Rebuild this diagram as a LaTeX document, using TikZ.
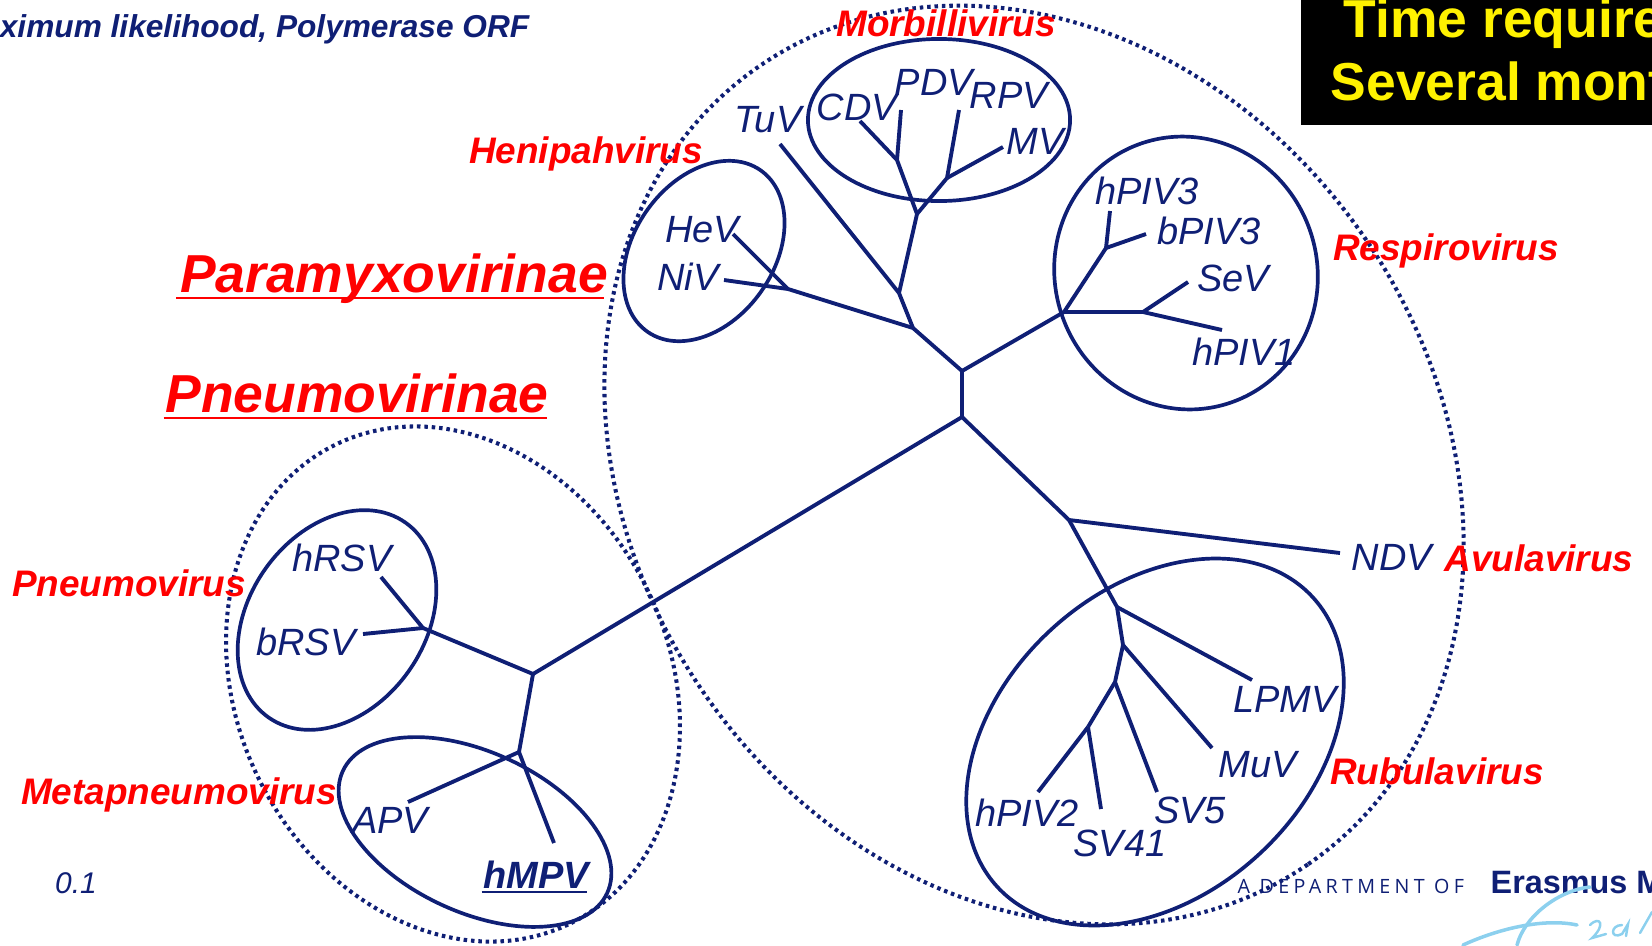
\documentclass[tikz,border=0pt]{standalone}
\usepackage{fontspec}
\setmainfont{Liberation Sans}
\newfontfamily\deptfont[LetterSpace=22]{Open Sans}
\usetikzlibrary{shapes.geometric, positioning}
\definecolor{navy}{HTML}{0F1F75}
\definecolor{logoblue}{HTML}{8CD0EE}
\newcommand{\ruletext}[3]{\setbox0\hbox{#3}\hbox{\rlap{\copy0}\kern-#2\rule[#1]{\wd0}{0.55pt}\kern#2}}
\begin{document}
\begin{tikzpicture}[x=0.01cm, y=-0.01cm, every node/.style={inner sep=0pt}]
\tikzstyle{virus} = [text=navy, font=\fontsize{10.8pt}{12pt}\selectfont\itshape]
\tikzstyle{genus} = [text=red, font=\fontsize{10.5pt}{12pt}\selectfont\bfseries\itshape]
\tikzstyle{subfamily} = [text=red, anchor=base, font=\fontsize{15.2pt}{18pt}\selectfont\bfseries\itshape]
\tikzstyle{banner} = [text=yellow, anchor=base west, font=\fontsize{15.2pt}{18pt}\selectfont\bfseries]
\tikzstyle{cluster} = [ellipse, draw=navy, line width=1.05pt]
\tikzstyle{group} = [ellipse, draw=navy, line width=1.15pt, dash pattern=on 1pt off 1.1pt]
\tikzstyle{branch} = [draw=navy, line width=1.1pt]

\useasboundingbox (0,0) rectangle (1652,945);
\clip (0,0) rectangle (1652,945);

\node[rectangle, fill=black, minimum width=3.6cm, minimum height=1.3cm, anchor=north west, inner sep=0pt] (box) at (1300,-6) {};
\node[banner] (time) at (1343,37) {Time require};
\node[banner] (months) at (1330,100) {Several mont};
\node[text=navy, anchor=base east, font=\fontsize{9pt}{11pt}\selectfont\bfseries\itshape] (title) at (530,37) {ximum likelihood, Polymerase ORF};
\node[text=navy, font=\fontsize{8.5pt}{10pt}\selectfont\itshape] (scale) at (76,883) {0.1};

\node[text=navy, anchor=base west, font=\fontsize{5.6pt}{7pt}\selectfont\deptfont] (dept) at (1237,893) {A DEPARTMENT OF};
\node[text=navy, anchor=base west, font=\fontsize{9.2pt}{11pt}\selectfont\bfseries] (erasmus) at (1490,893) {Erasmus M};
\draw[logoblue, line width=1pt, line cap=round] (1463,945) .. controls (1500,928) and (1545,918) .. (1577,925);
\draw[logoblue, line width=1pt, line cap=round] (1590,887) .. controls (1560,890) and (1525,915) .. (1517,945);
\draw[logoblue, line width=0.7pt, line cap=round] (1590,925) .. controls (1600,915) and (1606,925) .. (1592,938) -- (1606,934);
\draw[logoblue, line width=0.7pt, line cap=round] (1622,925) .. controls (1610,925) and (1610,940) .. (1622,934) -- (1628,924) -- (1626,936);
\draw[logoblue, line width=0.7pt, line cap=round] (1640,933) -- (1652,912);

\node[group, minimum width=9.68cm, minimum height=8.02cm, rotate=-55.5] (paramyxo) at (1034,465) {};
\node[group, minimum width=5.33cm, minimum height=4.32cm, rotate=-63.7] (pneumo) at (453,684) {};

\node[cluster, minimum width=2.62cm, minimum height=1.62cm] (morbilli) at (939,120) {};
\node[cluster, minimum width=1.97cm, minimum height=1.4cm, rotate=55] (henipa) at (704,251) {};
\node[cluster, minimum width=2.74cm, minimum height=2.62cm, rotate=110] (respiro) at (1186,273) {};
\node[cluster, minimum width=4.28cm, minimum height=3.06cm, rotate=42.5] (rubula) at (1155,742) {};
\node[cluster, minimum width=2.38cm, minimum height=1.76cm, rotate=55] (pneumovir) at (337,620) {};
\node[cluster, minimum width=2.91cm, minimum height=1.6cm, rotate=-24.8] (metapneumo) at (475,832) {};

\coordinate (c1) at (962,371);
\coordinate (c2) at (962,417);
\coordinate (para) at (913,328);
\coordinate (henij) at (788,289);
\coordinate (heve) at (733,234);
\coordinate (nive) at (724,280);
\coordinate (tuj) at (899,293);
\coordinate (tue) at (780,144);
\coordinate (morbj) at (917,214);
\coordinate (cdvj) at (897,160);
\coordinate (cdve) at (860,121);
\coordinate (pdve) at (901,110);
\coordinate (rpvj) at (947,178);
\coordinate (rpve) at (959,110);
\coordinate (mve) at (1003,147);
\coordinate (resp) at (1064,312);
\coordinate (piv3j) at (1106,248);
\coordinate (piv3e) at (1110,211);
\coordinate (bpive) at (1146,234);
\coordinate (seij) at (1143,312);
\coordinate (seve) at (1188,282);
\coordinate (piv1e) at (1222,330);
\coordinate (rubj) at (1069,520);
\coordinate (ndve) at (1340,553);
\coordinate (lpmj) at (1117,607);
\coordinate (lpme) at (1252,680);
\coordinate (muvj) at (1123,645);
\coordinate (muve) at (1212,748);
\coordinate (sv5j) at (1115,682);
\coordinate (sv5e) at (1157,792);
\coordinate (piv2j) at (1088,727);
\coordinate (piv2e) at (1038,792);
\coordinate (sv41e) at (1101,809);
\coordinate (pnj) at (533,674);
\coordinate (rsvj) at (423,628);
\coordinate (hrsve) at (381,577);
\coordinate (brsve) at (363,634);
\coordinate (mpvj) at (519,752);
\coordinate (apve) at (408,802);
\coordinate (hmpve) at (554,843);

\draw[branch] (c1) -- (c2);
\draw[branch] (c1) -- (para);
\draw[branch] (para) -- (henij);
\draw[branch] (henij) -- (heve);
\draw[branch] (henij) -- (nive);
\draw[branch] (para) -- (tuj);
\draw[branch] (tuj) -- (tue);
\draw[branch] (tuj) -- (morbj);
\draw[branch] (morbj) -- (cdvj);
\draw[branch] (cdvj) -- (cdve);
\draw[branch] (cdvj) -- (pdve);
\draw[branch] (morbj) -- (rpvj);
\draw[branch] (rpvj) -- (rpve);
\draw[branch] (rpvj) -- (mve);
\draw[branch] (c1) -- (resp);
\draw[branch] (resp) -- (piv3j);
\draw[branch] (piv3j) -- (piv3e);
\draw[branch] (piv3j) -- (bpive);
\draw[branch] (resp) -- (seij);
\draw[branch] (seij) -- (seve);
\draw[branch] (seij) -- (piv1e);
\draw[branch] (c2) -- (rubj);
\draw[branch] (rubj) -- (ndve);
\draw[branch] (rubj) -- (lpmj);
\draw[branch] (lpmj) -- (lpme);
\draw[branch] (lpmj) -- (muvj);
\draw[branch] (muvj) -- (muve);
\draw[branch] (muvj) -- (sv5j);
\draw[branch] (sv5j) -- (sv5e);
\draw[branch] (sv5j) -- (piv2j);
\draw[branch] (piv2j) -- (piv2e);
\draw[branch] (piv2j) -- (sv41e);
\draw[branch] (c2) -- (pnj);
\draw[branch] (pnj) -- (rsvj);
\draw[branch] (rsvj) -- (hrsve);
\draw[branch] (rsvj) -- (brsve);
\draw[branch] (pnj) -- (mpvj);
\draw[branch] (mpvj) -- (apve);
\draw[branch] (mpvj) -- (hmpve);

\node[virus] (tuv) at (768,120) {TuV};
\node[virus] (cdv) at (857,107) {CDV};
\node[virus] (pdv) at (934,82) {PDV};
\node[virus] (rpv) at (1009,95) {RPV};
\node[virus] (mv) at (1035,141) {MV};
\node[virus] (hev) at (702,230) {HeV};
\node[virus] (niv) at (688,277) {NiV};
\node[virus] (hpiv3) at (1147,191) {hPIV3};
\node[virus] (bpiv3) at (1209,231) {bPIV3};
\node[virus] (sev) at (1233,278) {SeV};
\node[virus] (hpiv1) at (1244,352) {hPIV1};
\node[virus] (ndv) at (1392,557) {NDV};
\node[virus] (lpmv) at (1285,699) {LPMV};
\node[virus] (muv) at (1258,765) {MuV};
\node[virus] (sv5) at (1190,810) {SV5};
\node[virus] (hpiv2) at (1027,813) {hPIV2};
\node[virus] (sv41) at (1120,843) {SV41};
\node[virus] (hrsv) at (342,558) {hRSV};
\node[virus] (brsv) at (306,642) {bRSV};
\node[virus] (apv) at (390,820) {APV};
\node[virus, anchor=base, font=\fontsize{10.8pt}{12pt}\selectfont\bfseries\itshape] (hmpv) at (536,888) {\ruletext{-1.4pt}{0.5pt}{hMPV}};

\node[genus] (lmorb) at (946,23) {Morbillivirus};
\node[genus] (lheni) at (586,154) {Henipahvirus};
\node[genus] (lresp) at (1446,251) {Respirovirus};
\node[genus] (lavul) at (1539,558) {Avulavirus};
\node[genus] (lrubu) at (1437,771) {Rubulavirus};
\node[genus] (lpneu) at (129,583) {Pneumovirus};
\node[genus] (lmeta) at (179,795) {Metapneumovirus};
\node[subfamily] (lpara) at (394,292) {\ruletext{-2pt}{1.1pt}{Paramyxovirinae}};
\node[subfamily] (lpnev) at (357,412) {\ruletext{-2pt}{0.5pt}{Pneumovirinae}};
\end{tikzpicture}
\end{document}
